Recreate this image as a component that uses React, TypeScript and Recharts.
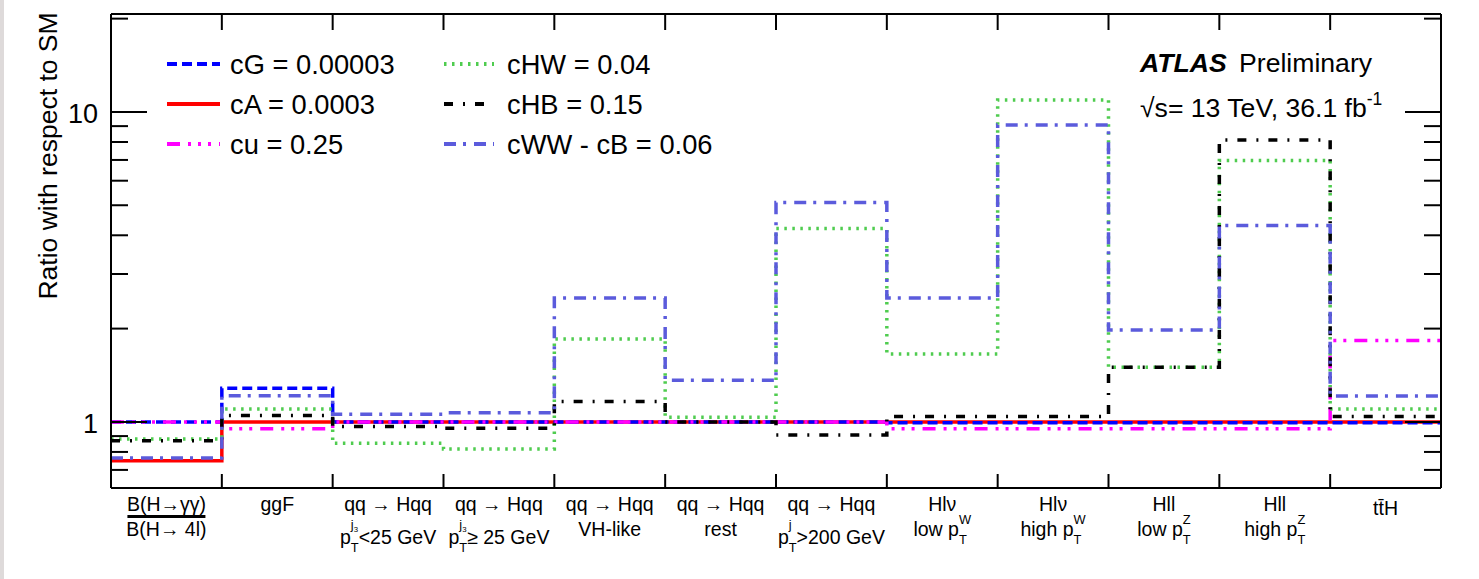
import React from "react";
import { ComposedChart, Line, XAxis, YAxis } from "recharts";

// ---------- data ----------
const categoryLine1 = ["B(H→γγ)", "ggF", "qq → Hqq", "qq → Hqq", "qq → Hqq", "qq → Hqq", "qq → Hqq", "Hlν", "Hlν", "Hll", "Hll", "tt\u0304H"];
const categoryLine2 = ["B(H→ 4l)", "", "p_T^{j3}<25 GeV", "p_T^{j3}≥ 25 GeV", "VH-like", "rest", "p_T^{j}>200 GeV", "low p_T^{W}", "high p_T^{W}", "low p_T^{Z}", "high p_T^{Z}", ""];

const cG = [1.0, 1.285, 1.0, 1.0, 1.0, 1.0, 1.0, 0.993, 0.993, 0.993, 0.993, 0.993];
const cA = [0.75, 1.0, 1.0, 1.0, 1.0, 1.0, 1.0, 1.0, 1.0, 1.0, 1.0, 1.0];
const cu = [1.0, 0.951, 1.0, 1.0, 1.0, 1.0, 1.0, 0.95, 0.95, 0.95, 0.95, 1.83];
const cHW = [0.881, 1.1, 0.853, 0.818, 1.85, 1.035, 4.21, 1.657, 10.93, 1.5, 6.97, 1.1];
const cHB = [0.87, 1.048, 0.966, 0.954, 1.163, 1.0, 0.908, 1.04, 1.04, 1.5, 8.12, 1.04];
const cWWcB = [0.765, 1.215, 1.059, 1.071, 2.51, 1.363, 5.1, 2.51, 9.08, 1.98, 4.3, 1.213];

const seriesNames = ["cG = 0.00003", "cA = 0.0003", "cu = 0.25", "cHW = 0.04", "cHB = 0.15", "cWW - cB = 0.06"];
const seriesKeys = ["cG", "cA", "cu", "cHW", "cHB", "cWWcB"];
const seriesValues = [cG, cA, cu, cHW, cHB, cWWcB];

const yTickValues = [0.7, 0.8, 0.9, 1, 2, 3, 4, 5, 6, 7, 8, 9, 10, 20];
const yMajorTicks = [1, 10];
const yDomain = [0.612, 20.7];
const binEdges = [0, 1, 2, 3, 4, 5, 6, 7, 8, 9, 10, 11, 12];

const atlasLabel = "ATLAS";
const atlasSub = "Preliminary";
const energyLabel = "√s= 13 TeV, 36.1 fb";
const lumiSup = "-1";
const yTitle = "Ratio with respect to SM";

// ---------- styles ----------
const FONT = "'Liberation Sans', Arial, Helvetica, sans-serif";
const seriesStyles = [
  { color: "#0000ff", dash: "10 5" },
  { color: "#ff0000", dash: undefined as string | undefined },
  { color: "#ff00ff", dash: "13 8 3 7 3 7 3 8" },
  { color: "#4fcc4f", dash: "2.5 5.5" },
  { color: "#000000", dash: "9 10 2 10" },
  { color: "#5b5bdc", dash: "12 7 3 8" },
];
// draw order: red first, then the others
const drawOrder = [1, 0, 2, 3, 4, 5];

const data = binEdges.map((e) => {
  const j = Math.min(e, 11);
  const row: any = { x: e };
  seriesKeys.forEach((k, s) => {
    row[k] = seriesValues[s][j];
  });
  return row;
});

// ---------- label helpers ----------
function richLine(s: string, fs: number) {
  const m = s.match(/^(.*?)p_T\^\{([^}]*)\}(.*)$/);
  if (!m) return [<tspan key="plain">{s}</tspan>];
  const pre = m[1];
  const sup = m[2];
  const post = m[3];
  const sfs = fs * 0.66;
  const parts: any[] = [];
  parts.push(<tspan key="pre">{pre + "p"}</tspan>);
  let supW = 0;
  const supDy = sup.startsWith("j") ? -fs * 0.75 : -fs * 0.6;
  if (sup === "j3") {
    parts.push(<tspan key="sup" dy={supDy} fontSize={sfs}>j</tspan>);
    parts.push(<tspan key="supsub" dy={fs * 0.15} fontSize={fs * 0.4}>3</tspan>);
    supW = sfs * 0.222 + fs * 0.4 * 0.556;
    parts.push(<tspan key="sub" dx={-supW} dy={-supDy - fs * 0.15 + fs * 0.42} fontSize={sfs}>T</tspan>);
  } else {
    parts.push(<tspan key="sup" dy={supDy} fontSize={sfs}>{sup}</tspan>);
    const wmap: any = { j: 0.222, W: 0.944, Z: 0.611 };
    supW = sfs * (wmap[sup] ?? 0.6);
    parts.push(<tspan key="sub" dx={-supW} dy={-supDy + fs * 0.42} fontSize={sfs}>T</tspan>);
  }
  const tW = sfs * 0.611;
  if (post) {
    parts.push(
      <tspan key="post" dx={Math.max(0, supW - tW)} dy={-fs * 0.42} fontSize={fs}>
        {post}
      </tspan>
    );
  }
  return parts;
}

const LABEL_FS = 19.5;

const BottomTick = (props: any) => {
  const { x, y, payload } = props;
  const v = payload.value as number;
  if (Number.isInteger(v)) {
    return <line x1={x} y1={y} x2={x} y2={y - 14} stroke="#000" strokeWidth={2} />;
  }
  const i = Math.floor(v);
  const l1 = categoryLine1[i];
  const l2 = categoryLine2[i];
  const isFrac = i === 0;
  const base1 = i === 11 ? y + 27 : y + 23;
  const base2 = l2.includes("^{j") ? y + 56 : y + 48;
  return (
    <g fontFamily={FONT} fill="#000">
      <text x={x} y={base1} textAnchor="middle" fontSize={LABEL_FS}>
        {l1}
      </text>
      {isFrac && <rect x={x - 39} y={y + 27} width={78} height={3} fill="#000" />}
      {l2 && (
        <text x={x} y={base2} textAnchor="middle" fontSize={LABEL_FS}>
          {richLine(l2, LABEL_FS)}
        </text>
      )}
    </g>
  );
};

const TopTick = (props: any) => {
  const { x, y } = props;
  return <line x1={x} y1={y} x2={x} y2={y + 16} stroke="#000" strokeWidth={2} />;
};

const LeftTick = (props: any) => {
  const { x, y, payload } = props;
  const v = payload.value as number;
  const major = yMajorTicks.includes(v);
  return (
    <g>
      <line x1={x} y1={y} x2={x + (major ? 36 : 17)} y2={y} stroke="#000" strokeWidth={2} />
      {major && (
        <text x={x - 13} y={y + 11} textAnchor="end" fontSize={27} fontFamily={FONT} fill="#000">
          {String(v)}
        </text>
      )}
    </g>
  );
};

const RightTick = (props: any) => {
  const { x, y, payload } = props;
  const v = payload.value as number;
  const major = yMajorTicks.includes(v);
  return <line x1={x} y1={y} x2={x - (major ? 36 : 17)} y2={y} stroke="#000" strokeWidth={2} />;
};

const legendSlots = [
  { lx: 167, lx2: 220, tx: 230, ly: 64, ty: 74 },
  { lx: 167, lx2: 220, tx: 230, ly: 104, ty: 114 },
  { lx: 167, lx2: 220, tx: 230, ly: 144, ty: 154 },
  { lx: 444, lx2: 494, tx: 507, ly: 64, ty: 74 },
  { lx: 444, lx2: 494, tx: 507, ly: 104, ty: 114 },
  { lx: 444, lx2: 494, tx: 507, ly: 144, ty: 154 },
];

export default function App() {
  const halfTicks: number[] = [];
  for (let i = 0; i <= 12; i++) {
    halfTicks.push(i);
    if (i < 12) halfTicks.push(i + 0.5);
  }
  return (
    <div style={{ position: "absolute", left: 0, top: 0, width: 1479, height: 579, background: "#fff", overflow: "hidden" }}>
      <div style={{ position: "absolute", left: 0, top: 0, width: 4, height: 579, background: "#dedada" }} />
      <div style={{ position: "absolute", left: 0, top: 0 }}>
        <ComposedChart width={1479} height={579} data={data} margin={{ top: 0, right: 0, bottom: 0, left: 0 }}>
          <XAxis
            xAxisId="bottom"
            dataKey="x"
            type="number"
            domain={[0, 12]}
            ticks={halfTicks}
            interval={0}
            orientation="bottom"
            height={91}
            tickSize={0}
            tickMargin={0}
            tickLine={false}
            axisLine={{ stroke: "#000", strokeWidth: 2 }}
            tick={<BottomTick />}
            allowDataOverflow
          />
          <XAxis
            xAxisId="top"
            dataKey="x"
            type="number"
            domain={[0, 12]}
            ticks={binEdges}
            interval={0}
            orientation="top"
            height={14}
            tickSize={0}
            tickMargin={0}
            tickLine={false}
            axisLine={{ stroke: "#000", strokeWidth: 2 }}
            tick={<TopTick />}
            allowDataOverflow
          />
          <YAxis
            yAxisId="left"
            scale="log"
            domain={yDomain}
            allowDataOverflow
            ticks={yTickValues}
            interval={0}
            orientation="left"
            width={111}
            tickSize={0}
            tickMargin={0}
            tickLine={false}
            axisLine={{ stroke: "#000", strokeWidth: 2 }}
            tick={<LeftTick />}
          />
          <YAxis
            yAxisId="right"
            scale="log"
            domain={yDomain}
            allowDataOverflow
            ticks={yTickValues}
            interval={0}
            orientation="right"
            width={38}
            tickSize={0}
            tickMargin={0}
            tickLine={false}
            axisLine={{ stroke: "#000", strokeWidth: 2 }}
            tick={<RightTick />}
          />
          <Line
            xAxisId="top"
            yAxisId="right"
            dataKey="cA"
            stroke="none"
            dot={false}
            activeDot={false}
            isAnimationActive={false}
            legendType="none"
          />
          {drawOrder.map((s) => (
            <Line
              key={seriesKeys[s]}
              xAxisId="bottom"
              yAxisId="left"
              type="stepAfter"
              dataKey={seriesKeys[s]}
              name={seriesNames[s]}
              stroke={seriesStyles[s].color}
              strokeWidth={3.5}
              strokeDasharray={seriesStyles[s].dash}
              dot={false}
              activeDot={false}
              isAnimationActive={false}
            />
          ))}
        </ComposedChart>
      </div>
      <svg
        width={1479}
        height={579}
        style={{ position: "absolute", left: 0, top: 0, pointerEvents: "none" }}
        fontFamily={FONT}
      >
        <text transform="translate(57,156) rotate(-90)" textAnchor="middle" fontSize={26.5} fill="#000">
          {yTitle}
        </text>
        {legendSlots.map((p, s) => (
          <g key={s}>
            <line
              x1={p.lx}
              y1={p.ly}
              x2={p.lx2}
              y2={p.ly}
              stroke={seriesStyles[s].color}
              strokeWidth={4}
              strokeDasharray={seriesStyles[s].dash}
            />
            <text x={p.tx} y={p.ty} fontSize={27.3} fill="#000">
              {seriesNames[s]}
            </text>
          </g>
        ))}
        <text x={1140} y={72} fontSize={26.6} fill="#000">
          <tspan fontWeight="bold" fontStyle="italic">
            {atlasLabel}
          </tspan>
          <tspan dx={5}>{" " + atlasSub}</tspan>
        </text>
        <text x={1140} y={117} fontSize={26.6} fill="#000">
          {energyLabel}
          <tspan dy={-12} fontSize={17.5}>
            {lumiSup}
          </tspan>
        </text>
      </svg>
    </div>
  );
}
